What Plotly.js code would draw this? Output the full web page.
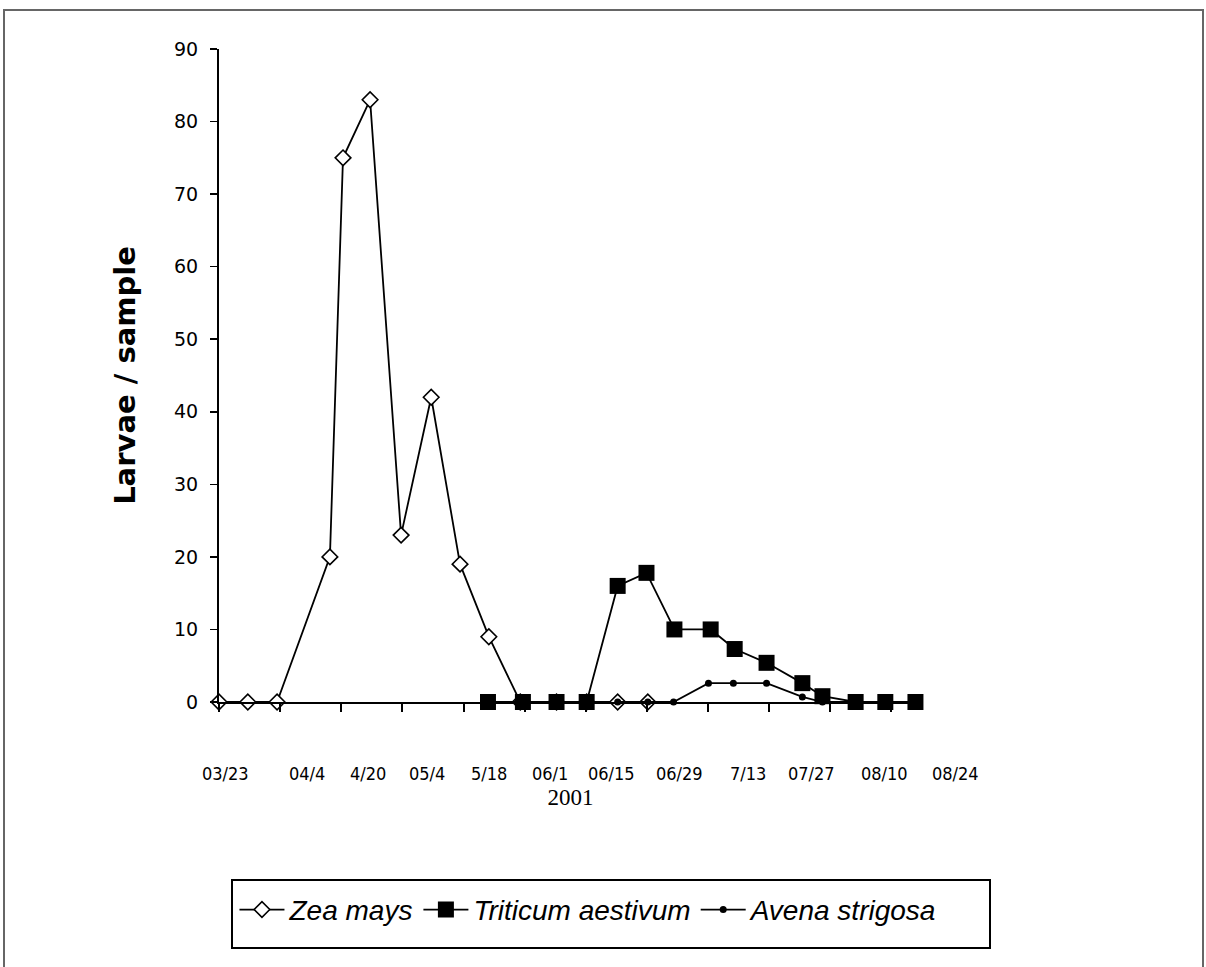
<!DOCTYPE html>
<html>
<head>
<meta charset="utf-8">
<script src="https://cdn.plot.ly/plotly-3.0.1.min.js"></script>
<style>
  html, body { margin: 0; padding: 0; background: #fff; }
  #frame { position: absolute; left: 3px; top: 9px; width: 1197px; height: 980px;
           border-left: 2px solid #666; border-top: 2px solid #666; border-right: 2px solid #666; }
  #chart { position: absolute; left: 0; top: 0; width: 1206px; height: 967px; }
</style>
</head>
<body>
<div id="frame"></div>
<div id="chart"></div>
<script>
// Sampling day (days after 03/23/2001) and larvae per sample
const zeaDays    = [0, 6.6, 13.3, 25.4, 28.4, 34.6, 41.7, 48.6, 55.2, 61.8, 69.0, 77.3, 84.2, 91.3, 98.2];
const zeaLarvae  = [0, 0, 0, 20, 75, 83, 23, 42, 19, 9, 0, 0, 0, 0, 0];

const tritDays   = [61.6, 69.6, 77.3, 84.2, 91.3, 97.9, 104.3, 112.6, 118.1, 125.4, 133.6, 138.2, 145.8, 152.6, 159.5];
const tritLarvae = [0, 0, 0, 0, 16, 17.8, 10, 10, 7.3, 5.4, 2.6, 0.8, 0, 0, 0];

const avenaDays   = [91.3, 98.2, 104.1, 112.1, 117.8, 125.4, 133.6, 138.2, 145.8, 152.6, 159.5];
const avenaLarvae = [0, 0, 0, 2.6, 2.6, 2.6, 0.7, 0, 0, 0, 0];

// Axis ticks and labels
const xMaxDay     = 161;
const xTickDays   = [0, 14, 28, 42, 56, 70, 84, 98, 112, 126, 140, 154];
const xLabelText  = ["03/23", "04/4", "4/20", "05/4", "5/18", "06/1", "06/15", "06/29", "7/13", "07/27", "08/10", "08/24"];
const xLabelDays  = [1.4, 20.2, 34.1, 47.6, 61.8, 75.8, 90.0, 105.4, 121.2, 135.6, 152.3, 168.6];
const yTickVals   = [0, 10, 20, 30, 40, 50, 60, 70, 80, 90];

const traces = [
  { x: zeaDays, y: zeaLarvae, name: "Zea mays", type: "scatter", mode: "lines+markers",
    line: { color: "#000", width: 1.8 }, cliponaxis: false,
    marker: { symbol: "diamond", size: 12, color: "#fff", line: { color: "#000", width: 1.6 } } },
  { x: tritDays, y: tritLarvae, name: "Triticum aestivum", type: "scatter", mode: "lines+markers",
    line: { color: "#000", width: 1.8 }, cliponaxis: false,
    marker: { symbol: "square", size: 16, color: "#000" } },
  { x: avenaDays, y: avenaLarvae, name: "Avena strigosa", type: "scatter", mode: "lines+markers",
    line: { color: "#000", width: 1.8 }, cliponaxis: false,
    marker: { symbol: "circle", size: 7, color: "#000" } }
];

const annotations = xLabelText.map((t, i) => ({
  text: t, x: xLabelDays[i] / xMaxDay, xref: "paper", y: -0.109, yref: "paper",
  xanchor: "center", yanchor: "middle", showarrow: false,
  font: { family: "DejaVu Sans Condensed, Arial", size: 18, color: "#000" }
}));

const layout = {
  width: 1206, height: 967,
  margin: { l: 219, r: 284, t: 49, b: 265, autoexpand: false },
  paper_bgcolor: "rgba(0,0,0,0)", plot_bgcolor: "rgba(0,0,0,0)",
  showlegend: true,
  xaxis: {
    range: [0, xMaxDay], showgrid: false, zeroline: false, automargin: false,
    showline: true, linecolor: "#000", linewidth: 2,
    tickmode: "array", tickvals: xTickDays, ticks: "outside", ticklen: 8, tickwidth: 2, tickcolor: "#000",
    showticklabels: false,
    title: { text: "2001", standoff: 78, font: { family: "Liberation Serif, Times New Roman", size: 23, color: "#000" } }
  },
  yaxis: {
    range: [0, 90], showgrid: false, zeroline: false, automargin: false,
    showline: true, linecolor: "#000", linewidth: 2,
    tickmode: "array", tickvals: yTickVals, ticks: "outside", ticklen: 7, tickwidth: 1.5, tickcolor: "#000",
    ticklabelstandoff: 8,
    tickfont: { family: "DejaVu Sans", size: 19, color: "#000" },
    title: { text: "Larvae / sample", standoff: 30, font: { family: "DejaVu Sans", size: 29, weight: "bold", color: "#000" } }
  },
  legend: {
    orientation: "h", x: 0.022, xanchor: "left", y: -0.28, yanchor: "top",
    bgcolor: "rgba(0,0,0,0)", borderwidth: 0, itemwidth: 45,
    font: { family: "Liberation Sans, Arial", size: 28, style: "italic", color: "#000" }
  },
  shapes: [
    { type: "rect", xref: "paper", yref: "paper",
      x0: (232 - 219) / 703, x1: (990 - 219) / 703, y0: (702 - 880) / 653, y1: (702 - 948) / 653,
      line: { color: "#000", width: 2 }, fillcolor: "rgba(0,0,0,0)", layer: "below" }
  ],
  annotations: annotations
};

Plotly.newPlot("chart", traces, layout, { displayModeBar: false, staticPlot: true });
</script>
</body>
</html>
